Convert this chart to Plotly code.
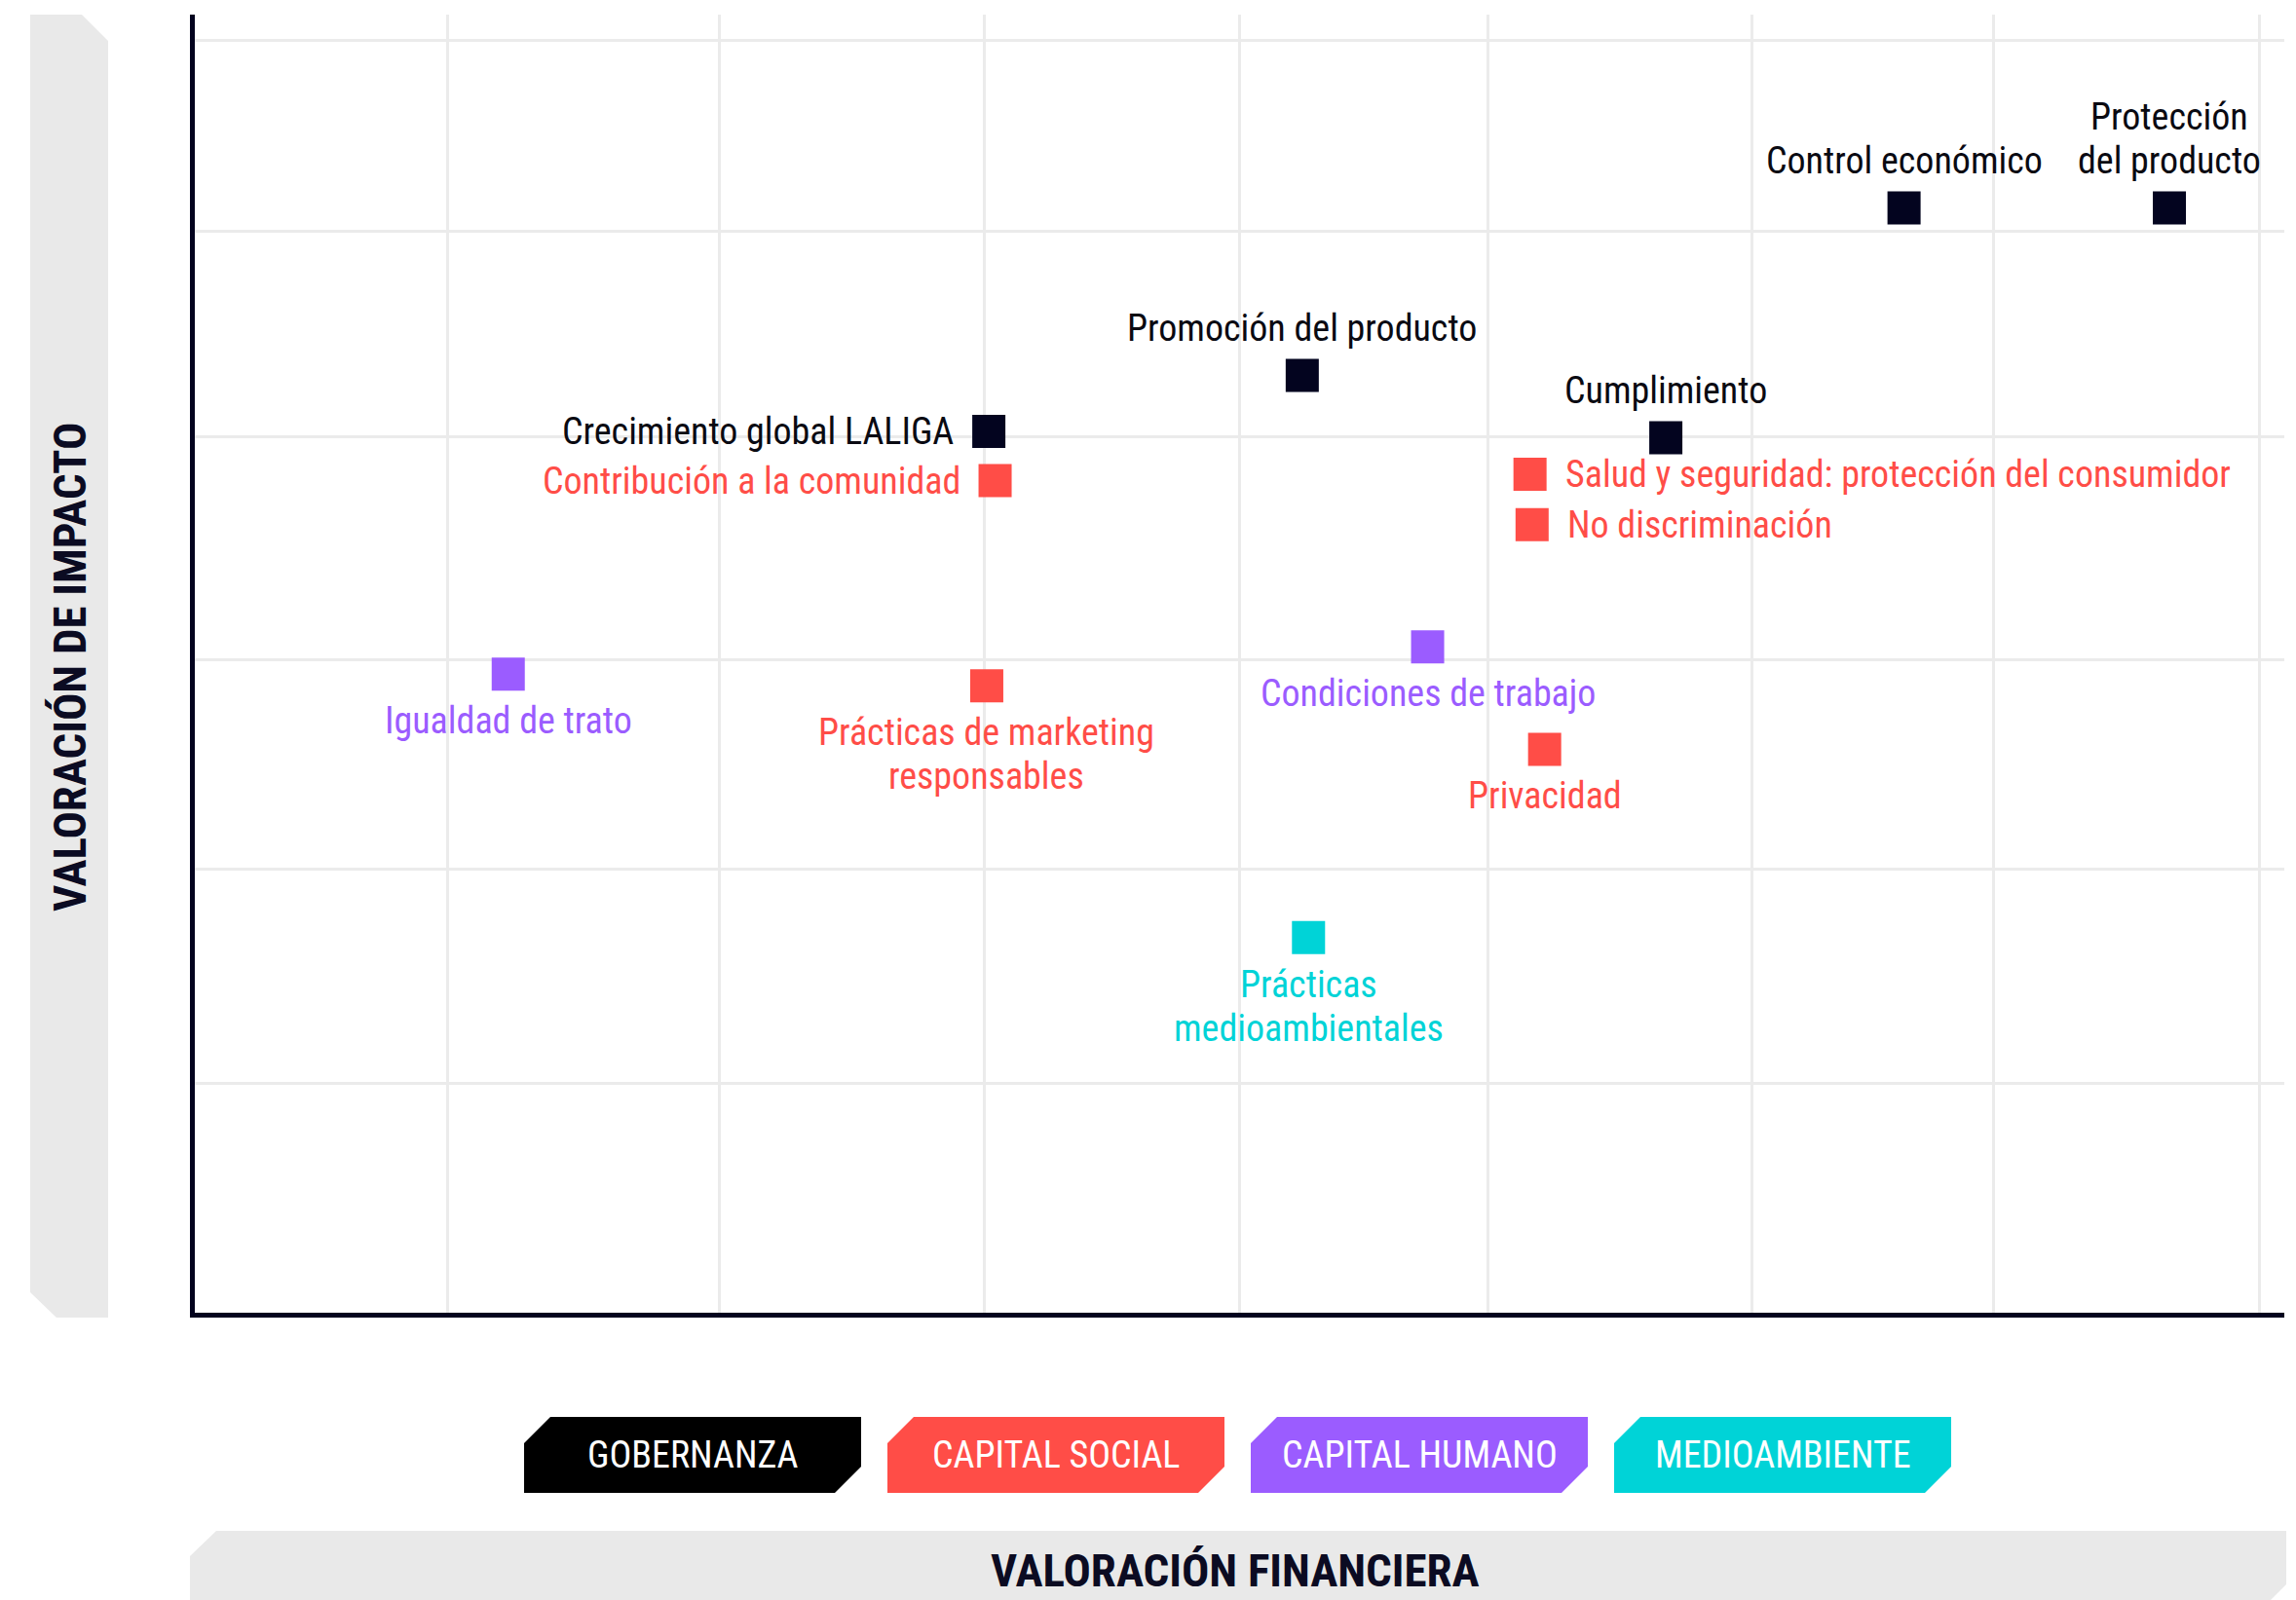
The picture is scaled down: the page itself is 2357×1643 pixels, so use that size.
import plotly.graph_objects as go

# ---------------- data ----------------
CATEGORIES = ["GOBERNANZA", "CAPITAL SOCIAL", "CAPITAL HUMANO", "MEDIOAMBIENTE"]
MARKER_COLORS = ["#03041F", "#FF4D47", "#9B5CFF", "#00D3D7"]
LEGEND_FILLS = ["#000000", "#FF4D47", "#9B5CFF", "#00D3D7"]
TEXT_COLORS = ["#0A0A12", "#FF4D47", "#9B5CFF", "#00D3D7"]

LABELS = [
    "Control económico",
    "Protección\ndel producto",
    "Promoción del producto",
    "Cumplimiento",
    "Crecimiento global LALIGA",
    "Contribución a la comunidad",
    "Salud y seguridad: protección del consumidor",
    "No discriminación",
    "Prácticas de marketing\nresponsables",
    "Privacidad",
    "Igualdad de trato",
    "Condiciones de trabajo",
    "Prácticas\nmedioambientales",
]
CATEGORY = [
    "GOBERNANZA", "GOBERNANZA", "GOBERNANZA", "GOBERNANZA", "GOBERNANZA",
    "CAPITAL SOCIAL", "CAPITAL SOCIAL", "CAPITAL SOCIAL", "CAPITAL SOCIAL", "CAPITAL SOCIAL",
    "CAPITAL HUMANO", "CAPITAL HUMANO",
    "MEDIOAMBIENTE",
]
# Valoración financiera (x) and valoración de impacto (y), 0-100 scale
FIN_VALUE = [81.8, 94.5, 53.0, 70.4, 38.0, 38.3, 63.9, 64.0, 37.9, 64.6, 15.0, 59.0, 53.3]
IMP_VALUE = [85.1, 85.1, 72.2, 67.4, 67.9, 64.1, 64.6, 60.7, 48.3, 43.4, 49.2, 51.3, 28.9]
LABEL_SIDE = ["top", "top", "top", "top", "left", "left", "right", "right",
              "bottom", "bottom", "bottom", "bottom", "bottom"]

GRID_X = [12.1, 25.1, 37.8, 50.0, 61.9, 74.5, 86.1, 98.8]
GRID_Y = [17.7, 34.2, 50.3, 67.5, 83.3, 98.0]

X_TITLE = "VALORACIÓN FINANCIERA"
Y_TITLE = "VALORACIÓN DE IMPACTO"

# ---------------- layout geometry ----------------
OFF = 8                      # page body margin
W, H = 2357 - OFF, 1643 - OFF
PX0, PX1, PY0, PY1 = 200, 2345, 15, 1348   # plot area in page pixels
ML, MR, MT, MB = PX0 - OFF, W - (PX1 - OFF), PY0 - OFF, H - (PY1 - OFF)
PW, PH = PX1 - PX0, PY1 - PY0
FONT = "Roboto Condensed, DejaVu Sans Condensed, Liberation Sans Narrow, Open Sans"
NAVY = "#03031E"
BAND = "#E9E9E9"


def P(px, py):
    return (px - PX0) / PW, (PY1 - py) / PH


def path(points):
    s = ""
    for i, (px, py) in enumerate(points):
        x, y = P(px, py)
        s += ("M" if i == 0 else "L") + f"{x:.5f},{y:.5f} "
    return s + "Z"


fig = go.Figure()

for cat, mcol in zip(CATEGORIES, MARKER_COLORS):
    xs = [x for x, c in zip(FIN_VALUE, CATEGORY) if c == cat]
    ys = [y for y, c in zip(IMP_VALUE, CATEGORY) if c == cat]
    fig.add_trace(go.Scatter(
        x=xs, y=ys, mode="markers", name=cat, showlegend=False,
        marker=dict(symbol="square", size=34, color=mcol, line=dict(width=0)),
        hoverinfo="skip",
    ))

annotations = []
LS = 45
FS = 38
for lab, cat, x, y, side in zip(LABELS, CATEGORY, FIN_VALUE, IMP_VALUE, LABEL_SIDE):
    col = TEXT_COLORS[CATEGORIES.index(cat)]
    lines = lab.split("\n")
    n = len(lines)
    for i, ln in enumerate(lines):
        a = dict(x=x, y=y, xref="x", yref="y", text=ln, showarrow=False,
                 font=dict(family=FONT, size=FS, color=col), borderpad=0,
                 yanchor="middle")
        if side == "top":
            a.update(xanchor="center", yshift=49 + (n - 1 - i) * LS)
        elif side == "bottom":
            a.update(xanchor="center", yshift=-(48 + i * LS))
        elif side == "left":
            a.update(xanchor="right", xshift=-35, yshift=0)
        else:
            a.update(xanchor="left", xshift=35, yshift=0)
        annotations.append(a)

shapes = []
# grey axis-title bands
shapes.append(dict(type="path", xref="paper", yref="paper", layer="below",
                   path=path([(31, 15), (84, 15), (111, 42), (111, 1353),
                              (58, 1353), (31, 1327)]),
                   fillcolor=BAND, line=dict(width=0)))
shapes.append(dict(type="path", xref="paper", yref="paper", layer="below",
                   path=path([(195, 1598), (222, 1572), (2347, 1572), (2347, 1627),
                              (2331, 1643), (195, 1643)]),
                   fillcolor=BAND, line=dict(width=0)))

# legend chips
BX0, BW, BGAP, BY0, BY1, CH = 538, 346, 27, 1455, 1533, 27
for i, (cat, fill) in enumerate(zip(CATEGORIES, LEGEND_FILLS)):
    x0 = BX0 + i * (BW + BGAP)
    x1 = x0 + BW
    shapes.append(dict(type="path", xref="paper", yref="paper",
                       path=path([(x0 + CH, BY0), (x1, BY0), (x1, BY1 - CH),
                                  (x1 - CH, BY1), (x0, BY1), (x0, BY0 + CH)]),
                       fillcolor=fill, line=dict(width=0)))
    cx, cy = P((x0 + x1) / 2, (BY0 + BY1) / 2)
    annotations.append(dict(x=cx, y=cy, xref="paper", yref="paper", text=cat,
                            showarrow=False, xanchor="center", yanchor="middle",
                            font=dict(family=FONT, size=38, color="#FFFFFF"),
                            borderpad=0))

# axis titles
tx, ty = P(1268, 1612)
annotations.append(dict(x=tx, y=ty, xref="paper", yref="paper", text=X_TITLE,
                        showarrow=False, xanchor="center", yanchor="middle",
                        font=dict(family=FONT, size=47, color="#0B0B22", weight="bold")))
tx, ty = P(71, 685)
annotations.append(dict(x=tx, y=ty, xref="paper", yref="paper", text=Y_TITLE,
                        showarrow=False, xanchor="center", yanchor="middle", textangle=-90,
                        font=dict(family=FONT, size=47, color="#0B0B22", weight="bold")))

axis_common = dict(showticklabels=False, ticks="", zeroline=False,
                   showgrid=True, gridcolor="#EBEBEB", gridwidth=3,
                   showline=True, linecolor=NAVY, linewidth=5, fixedrange=True)

fig.update_layout(
    width=W, height=H,
    margin=dict(l=ML, r=MR, t=MT, b=MB, pad=0),
    paper_bgcolor="#FFFFFF", plot_bgcolor="#FFFFFF",
    xaxis=dict(range=[0, 100], tickmode="array", tickvals=GRID_X, **axis_common),
    yaxis=dict(range=[0, 100], tickmode="array", tickvals=GRID_Y, **axis_common),
    shapes=shapes, annotations=annotations,
    showlegend=False,
)

fig.write_html("out.html")
